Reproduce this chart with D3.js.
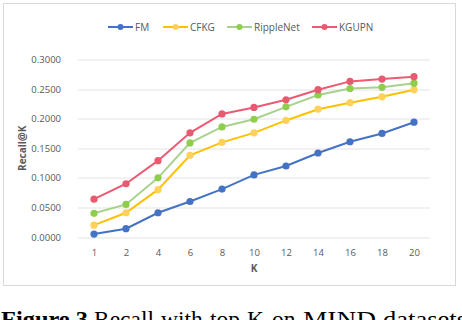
<!DOCTYPE html>
<html>
<head>
<meta charset="utf-8">
<script src="https://cdn.jsdelivr.net/npm/d3@7"></script>
<style>
  body { margin: 0; background: #fff; }
  svg { display: block; }
</style>
</head>
<body>
<svg id="chart" width="462" height="320"></svg>
<script>
  const kValues = ["1", "2", "4", "6", "8", "10", "12", "14", "16", "18", "20"];
  const fm        = [0.005, 0.014, 0.041, 0.060, 0.081, 0.105, 0.120, 0.142, 0.161, 0.175, 0.194];
  const cfkg      = [0.020, 0.041, 0.080, 0.138, 0.160, 0.176, 0.197, 0.216, 0.227, 0.237, 0.249];
  const rippleNet = [0.040, 0.055, 0.100, 0.159, 0.186, 0.199, 0.220, 0.240, 0.251, 0.253, 0.260];
  const kgupn     = [0.064, 0.090, 0.129, 0.176, 0.208, 0.219, 0.232, 0.249, 0.263, 0.267, 0.271];
  const yTicks = [0, 0.05, 0.1, 0.15, 0.2, 0.25, 0.3];

  const series = [
    {name: "FM", values: fm, line: "#4472c4", dot: "#4472c4"},
    {name: "CFKG", values: cfkg, line: "#ffc000", dot: "#ffd05a"},
    {name: "RippleNet", values: rippleNet, line: "#a9d18e", dot: "#8fce4c"},
    {name: "KGUPN", values: kgupn, line: "#eb5a72", dot: "#e85a70"}
  ];

  const svg = d3.select("#chart");
  const margin = {top: 59.5, left: 78, right: 32, bottom: 83};
  const width = 462 - margin.left - margin.right;
  const height = 320 - margin.top - margin.bottom;

  // outer chart box
  svg.append("rect")
    .attr("x", 3.5).attr("y", 3.5)
    .attr("width", 452).attr("height", 282)
    .attr("fill", "#fff")
    .attr("stroke", "#d9d9d9");

  const g = svg.append("g")
    .attr("transform", "translate(" + margin.left + "," + margin.top + ")");

  const x = d3.scalePoint()
    .domain(kValues)
    .range([0, width])
    .padding(0.5);

  const y = d3.scaleLinear()
    .domain([0, 0.3])
    .range([height, 0]);

  // gridlines
  g.append("g")
    .selectAll("line")
    .data(yTicks)
    .join("line")
      .attr("x1", 0).attr("x2", width)
      .attr("y1", d => Math.round(y(d)) + 0.5)
      .attr("y2", d => Math.round(y(d)) + 0.5)
      .attr("stroke", "#e3e3e3")
      .attr("stroke-width", 1.2);

  const yAxis = g.append("g")
    .attr("transform", "translate(-14,0)")
    .call(d3.axisLeft(y).tickValues(yTicks).tickFormat(d3.format(".4f")).tickSize(0));
  yAxis.select(".domain").remove();
  yAxis.selectAll("text")
    .attr("fill", "#595959")
    .style("font", "9.5px 'Open Sans', sans-serif");

  const xAxis = g.append("g")
    .attr("transform", "translate(0," + (height + 9) + ")")
    .call(d3.axisBottom(x).tickSize(0));
  xAxis.select(".domain").remove();
  xAxis.selectAll("text")
    .attr("fill", "#595959")
    .style("font", "9.5px 'Open Sans', sans-serif");

  // axis titles
  svg.append("text")
    .attr("x", x("10") + margin.left)
    .attr("y", 272)
    .attr("text-anchor", "middle")
    .attr("fill", "#595959")
    .style("font", "bold 10px 'Open Sans', sans-serif")
    .text("K");

  svg.append("text")
    .attr("transform", "translate(26," + (margin.top + height / 2) + ") rotate(-90)")
    .attr("text-anchor", "middle")
    .attr("fill", "#595959")
    .style("font", "bold 10px 'Open Sans', sans-serif")
    .text("Recall@K");

  const line = d3.line()
    .x((d, i) => x(kValues[i]))
    .y(d => y(d));

  series.forEach(function (s) {
    g.append("path")
      .attr("d", line(s.values))
      .attr("fill", "none")
      .attr("stroke", s.line)
      .attr("stroke-width", 2);

    g.append("g")
      .selectAll("circle")
      .data(s.values)
      .join("circle")
        .attr("cx", (d, i) => x(kValues[i]))
        .attr("cy", d => y(d))
        .attr("r", 3.6)
        .attr("fill", s.dot);
  });

  // legend
  const legendX = [108, 163, 227, 312];
  const legend = svg.append("g")
    .selectAll("g")
    .data(series)
    .join("g")
      .attr("transform", (d, i) => "translate(" + legendX[i] + ",27)");
  legend.append("line")
    .attr("x1", 0).attr("x2", 25)
    .attr("stroke", d => d.line)
    .attr("stroke-width", 2);
  legend.append("circle")
    .attr("cx", 12.5).attr("r", 3)
    .attr("fill", d => d.dot);
  legend.append("text")
    .attr("x", 27)
    .attr("dy", "0.35em")
    .attr("fill", "#595959")
    .style("font", "10px 'Open Sans', sans-serif")
    .text(d => d.name);

  // caption (cropped at the bottom in the original too); words placed like the scan
  const captionWords = [
    {t: "Figure 3", x: 1, bold: true, len: 87},
    {t: "Recall", x: 94},
    {t: "with", x: 161},
    {t: "top", x: 210},
    {t: "K", x: 247},
    {t: "on", x: 272},
    {t: "MIND", x: 303, len: 73},
    {t: "datasets", x: 383, len: 84}
  ];
  const caption = svg.append("text")
    .attr("y", 327)
    .style("font", "23.5px 'Liberation Serif', serif")
    .attr("fill", "#000");
  captionWords.forEach(function (w) {
    const ts = caption.append("tspan")
      .attr("x", w.x)
      .attr("font-weight", w.bold ? "bold" : null)
      .text(w.t);
    if (w.len) ts.attr("textLength", w.len).attr("lengthAdjust", "spacingAndGlyphs");
  });
</script>
</body>
</html>
